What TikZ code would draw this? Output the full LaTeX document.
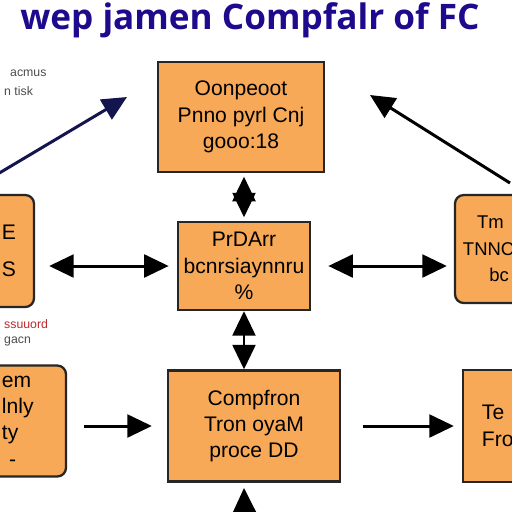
\documentclass[tikz,border=0pt]{standalone}
\usepackage{fontspec}
\setmainfont{Liberation Sans}
\newfontfamily\titlefont{Open Sans}
\usepackage{xcolor}
\usetikzlibrary{arrows.meta}

\definecolor{boxorange}{HTML}{F7A957}
\definecolor{titleblue}{HTML}{1E0A8C}
\definecolor{navy}{HTML}{14144E}
\definecolor{noteRed}{HTML}{C0282A}

\begin{document}
\begin{tikzpicture}[x=0.02cm, y=-0.02cm]
        \tikzset{
            box/.style={fill=boxorange, draw=black!85, line width=1.3pt, align=center,
                font=\fontsize{12}{15}\selectfont},
            rbox/.style={box, rounded corners=5pt},
            link/.style={line width=1.7pt, {Triangle[length=14pt,width=13pt]}-{Triangle[length=14pt,width=13pt]}},
            onelink/.style={line width=1.7pt, -{Triangle[length=14pt,width=13pt]}},
            note/.style={font=\fontsize{7}{8}\selectfont, anchor=west}
        }
        \useasboundingbox (0,0) rectangle (512,512);
        \clip (0,0) rectangle (512,512);
        \fill[white] (0,0) rectangle (512,512);

        % Title
        \node[anchor=base, text=titleblue, font=\titlefont\bfseries\fontsize{20}{24}\selectfont] (title) at (250,29) {wep jamen Compfalr of FC};

        % Side notes
        \node[note, text=black!70] (noteA) at (4,73) {acmus};
        \node[note, text=black!70] (noteB) at (-2,91) {n tisk};
        \node[note, text=noteRed] (noteC) at (-2,324) {ssuuord};
        \node[note, text=black!70] (noteD) at (-2,341) {gacn};

        % Boxes
        \node[box, minimum width=166*0.02cm, minimum height=110*0.02cm] (top) at (241,117) {Oonpeoot\\Pnno pyrl Cnj\\gooo:18};
        \node[box, minimum width=122*0.02cm, minimum height=88*0.02cm] (mid) at (244,266) {PrDArr\\bcnrsiaynnru\\\%};
        \node[rbox, minimum width=86*0.02cm, minimum height=112*0.02cm, text width=50*0.02cm, align=right] (left) at (-9,251) {E\\[6pt]S};
        \node[rbox, minimum width=104*0.02cm, minimum height=108*0.02cm, text width=88*0.02cm, align=left,
            font=\fontsize{10.5}{15}\selectfont] (right) at (507,249) {\hspace*{8pt}Tm\\TNNC\\\hspace*{15pt}bc};
        \node[rbox, minimum width=106*0.02cm, minimum height=111*0.02cm, text width=22*0.02cm, align=left] (botleft) at (13,421) {em\\lnly\\ty\\\hspace*{4pt}-};
        \node[box, minimum width=172*0.02cm, minimum height=111*0.02cm] (botmid) at (254,426) {Compfron\\Tron oyaM\\proce DD};
        \node[box, minimum width=98*0.02cm, minimum height=112*0.02cm, text width=60*0.02cm, align=left] (botright) at (512,426) {Te\\Fro\\ };

        % Connectors
        \coordinate (tlstart) at (-4,175);
        \coordinate (tlend) at (127,97);
        \coordinate (trstart) at (510,183);
        \coordinate (trend) at (370,95);
        \coordinate (below) at (245,540);

        \draw[onelink, draw=navy, fill=navy] (tlstart) -- (tlend);
        \draw[onelink] (trstart) -- (trend);
        \draw[link] ([yshift=-2pt]top.south -| mid.north) -- ([yshift=2pt]mid.north);
        \draw[link] ([xshift=14*0.02cm]left.east |- mid.west) -- ([xshift=-8*0.02cm]mid.west);
        \draw[link] ([xshift=17*0.02cm]mid.east) -- ([xshift=-7*0.02cm]right.west |- mid.east);
        \draw[link] (mid.south) -- (mid.south |- botmid.north);
        \draw[onelink] ([xshift=17*0.02cm]botleft.east |- botmid.west) -- ([xshift=-15*0.02cm]botmid.west);
        \draw[onelink] ([xshift=22*0.02cm]botmid.east) -- ([xshift=-8*0.02cm]botright.west);
        \draw[onelink] (below) -- ([yshift=-3pt]mid.south |- botmid.south);
\end{tikzpicture}
\end{document}
